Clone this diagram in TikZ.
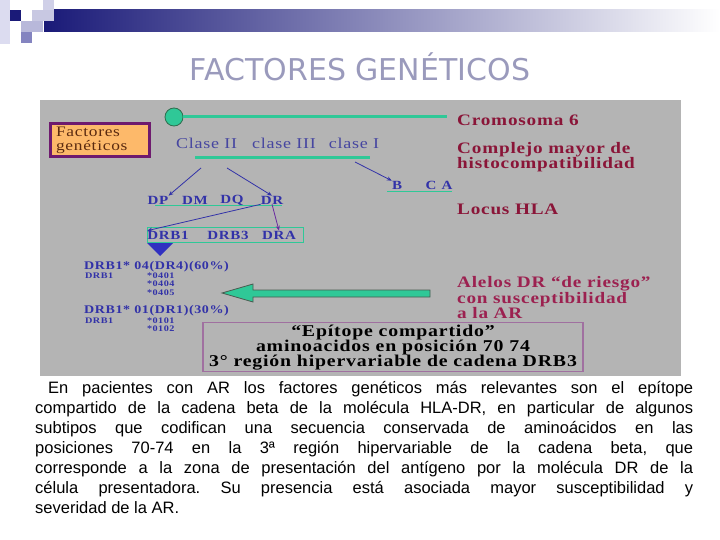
\documentclass[tikz,border=0pt]{standalone}
\usepackage{fontspec}
\setmainfont{Liberation Serif}
\newfontfamily\bodyfont{Liberation Sans}
\newfontfamily\titlefont{DejaVu Sans}
\newfontfamily\pserif[LetterSpace=5,FakeStretch=1.2]{Liberation Serif}
\usetikzlibrary{arrows.meta}
\definecolor{panelgray}{HTML}{B4B4B4}
\definecolor{tealg}{HTML}{2FC897}
\definecolor{darkg}{HTML}{2E6E4E}
\definecolor{arrowedge}{HTML}{4A5A50}
\definecolor{maroon}{HTML}{8A1538}
\definecolor{rosem}{HTML}{9C2150}
\definecolor{bluet}{HTML}{3232A8}
\definecolor{clasecol}{HTML}{4646A0}
\definecolor{boxorange}{HTML}{FDB96A}
\definecolor{boxpurple}{HTML}{6E1A6E}
\definecolor{epipurple}{HTML}{A070A0}
\definecolor{navy}{HTML}{1A1A78}
\definecolor{titlecol}{HTML}{9A9ABC}
\definecolor{brownt}{HTML}{5A2A10}
\definecolor{arrowpurple}{HTML}{6A2AA0}
\definecolor{sqA}{HTML}{DCDCF0}
\definecolor{sqB}{HTML}{D0D0E8}
\definecolor{sqC}{HTML}{C8C8E2}
\definecolor{sqD}{HTML}{B8B8DA}
\definecolor{sqE}{HTML}{8484C0}
\definecolor{triblue}{HTML}{3030C0}
\tikzset{
  maroontxt/.style={anchor=west, inner sep=0, text=maroon, font=\pserif\bfseries\fontsize{16}{14}\selectfont},
  rosetxt/.style={anchor=west, inner sep=0, text=rosem, font=\pserif\bfseries\fontsize{16}{14.5}\selectfont},
  gene/.style={inner sep=0, text=bluet, font=\pserif\bfseries\fontsize{12.5}{13}\selectfont},
  listtxt/.style={anchor=west, inner sep=0, text=bluet, font=\pserif\bfseries\fontsize{11.7}{12}\selectfont},
  smalllist/.style={anchor=west, inner sep=0, text=bluet, font=\pserif\bfseries\fontsize{8.5}{9}\selectfont},
  gline/.style={draw=tealg, line width=3pt},
  thinline/.style={draw=tealg, line width=1pt},
  conn/.style={draw=bluet, line width=0.8pt, -{Stealth[length=5pt,width=4pt]}},
  bodyline/.style={anchor=west, inner sep=0, font=\bodyfont\fontsize{16.5}{20}\selectfont},
}
\begin{document}
\frenchspacing
\begin{tikzpicture}[x=1pt,y=-1pt]
\useasboundingbox (0,0) rectangle (720,540);
% header decoration
\shade[left color=navy, right color=white] (44,10) rectangle (720,32);
\fill[sqA] (0,0) rectangle (10,44);
\fill[sqB] (43,0) rectangle (54,10);
\fill[sqC] (32,10) rectangle (54,21);
\fill[navy] (10,10) rectangle (21,21);
\fill[sqD] (21,21) rectangle (43,32);
\fill[sqE] (21,32) rectangle (32,43);
% title
\node[font=\titlefont\fontsize{30}{34}\selectfont, text=titlecol] (title) at (360,67) {FACTORES GENÉTICOS};
% panel
\fill[panelgray] (40,100) rectangle (681,376);
% chromosome
\node[circle, fill=tealg, draw=darkg, line width=0.8pt, minimum size=18pt, inner sep=0] (chr) at (174,117) {};
\coordinate (chrend) at (447,117);
\draw[gline] (chr.east) -- (chrend);
\node[maroontxt] (crom) at (457,120) {Cromosoma 6};
% factores box
\node[draw=boxpurple, line width=3pt, fill=boxorange, minimum width=99pt, minimum height=33pt, text width=87pt, align=left, text=brownt, font=\pserif\fontsize{14.5}{14.5}\selectfont, inner sep=2pt] (fact) at (99.5,140.5) {Factores\\genéticos};
% clases
\node[anchor=west, inner sep=0, text=clasecol, font=\pserif\fontsize{15}{15}\selectfont] (clase) at (176,143) {Clase II\hspace{15pt}clase III\hspace{13pt}clase I};
\node[maroontxt, align=left] (compl) at (457,157) {Complejo mayor de\\histocompatibilidad};
\coordinate (l2a) at (195,158);
\coordinate (l2b) at (370,158);
\draw[gline] (l2a) -- (l2b);
\coordinate (s1) at (201,168);
\coordinate (s2) at (227,168);
\coordinate (s3) at (355,162);
% B C A
\node[gene] (B) at (397,185) {B};
\node[gene] (C) at (431,185) {C};
\node[gene] (A) at (447,185) {A};
\coordinate (bca1) at (387,192);
\coordinate (bca2) at (452,192);
\draw[thinline] (bca1) -- (bca2);
\draw[conn] (s3) -- (B.north west);
% DP DM DQ DR
\node[gene] (DP) at (158,200) {DP};
\node[gene] (DM) at (195,200) {DM};
\node[gene] (DQ) at (232,200) {DQ};
\node[gene] (DR) at (272,200) {DR};
\coordinate (dl1) at (155,206);
\coordinate (dl2) at (282,206);
\draw[thinline] (dl1) -- (dl2);
\draw[conn] (s1) -- (DP.north east);
\draw[conn] (s2) -- (DR.north);
\node[maroontxt] (locus) at (457,209) {Locus HLA};
% DRB box
\node[draw=tealg, line width=1pt, minimum width=156pt, minimum height=15pt, inner sep=0] (drbbox) at (225,235) {};
\node[gene] (DRB1) at (168,235) {DRB1};
\node[gene] (DRB3) at (228,235) {DRB3};
\node[gene] (DRA) at (279,235) {DRA};
\draw[conn] (DR.south west) -- (DRB1.north west);
\draw[draw=arrowpurple, line width=0.8pt, -{Stealth[length=5pt,width=4pt]}] (DR.south) -- (DRA.north);
% triangle
\fill[triblue] (147,243) -- (173,243) -- (160,256) -- cycle;
% alleles list
\node[listtxt] (l1) at (84,267) {DRB1* 04(DR4)(60\%)};
\node[smalllist] (l2) at (85,275.5) {DRB1};
\node[smalllist] (l3) at (147,275.5) {*0401};
\node[smalllist] (l4) at (147,284) {*0404};
\node[smalllist] (l5) at (147,292.5) {*0405};
\node[listtxt] (l6) at (84,311) {DRB1* 01(DR1)(30\%)};
\node[smalllist] (l7) at (85,320.5) {DRB1};
\node[smalllist] (l8) at (147,320.5) {*0101};
\node[smalllist] (l9) at (147,329) {*0102};
% big arrow
\filldraw[fill=tealg, draw=arrowedge, line width=0.8pt] (222,293) -- (253,284) -- (253,290) -- (430,290) -- (430,297) -- (253,297) -- (253,302) -- cycle;
\node[rosetxt, align=left] (alelos) at (457,297.5) {Alelos DR “de riesgo”\\con susceptibilidad\\a la AR};
% epitope box
\node[draw=epipurple, line width=1.5pt, fill=panelgray, minimum width=380pt, minimum height=49pt, inner sep=0] (epibox) at (393,347) {};
\node[inner sep=0, align=center, font=\pserif\bfseries\fontsize{16.5}{15}\selectfont] (epitxt) at (393,348) {“Epítope compartido”\\aminoacidos en posición 70 74\\3° región hipervariable de cadena DRB3};
% body text
\node[bodyline] (b1) at (48,389) {\makebox[645pt][s]{En pacientes con AR los factores genéticos más relevantes son el epítope}};
\node[bodyline] (b2) at (35,409) {\makebox[658pt][s]{compartido de la cadena beta de la molécula HLA-DR, en particular de algunos}};
\node[bodyline] (b3) at (35,429) {\makebox[658pt][s]{subtipos que codifican una secuencia conservada de aminoácidos en las}};
\node[bodyline] (b4) at (35,449) {\makebox[658pt][s]{posiciones 70-74 en la 3ª región hipervariable de la cadena beta, que}};
\node[bodyline] (b5) at (35,469) {\makebox[658pt][s]{corresponde a la zona de presentación del antígeno por la molécula DR de la}};
\node[bodyline] (b6) at (35,489) {\makebox[658pt][s]{célula presentadora. Su presencia está asociada mayor susceptibilidad y}};
\node[bodyline] (b7) at (35,508) {severidad de la AR.};
\end{tikzpicture}
\end{document}
